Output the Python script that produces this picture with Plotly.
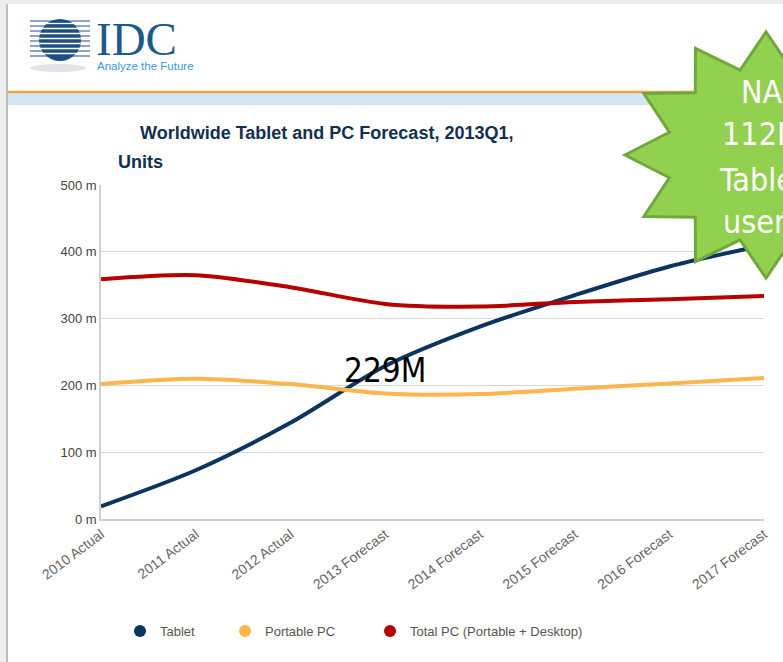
import numpy as np
import plotly.graph_objects as go

# ---- data ----
categories = ["2010 Actual", "2011 Actual", "2012 Actual", "2013 Forecast",
              "2014 Forecast", "2015 Forecast", "2016 Forecast", "2017 Forecast"]
tablet = [19, 73, 144, 229, 288, 335, 378, 410]
portable_pc = [202, 210, 202, 188, 187, 195, 203, 211]
total_pc = [359, 365, 347, 322, 318, 325, 329, 334]
y_ticks = [0, 100, 200, 300, 400, 500]
y_tick_labels = ["0 m", "100 m", "200 m", "300 m", "400 m", "500 m"]

series = [
    ("Tablet", tablet, "#0B3560"),
    ("Portable PC", portable_pc, "#FFB54D"),
    ("Total PC (Portable + Desktop)", total_pc, "#B80000"),
]

W, H = 783, 662
L, R, T, B = 101, 19, 185, 143
PW, PH = W - L - R, H - T - B


def px(x):
    return (x - L) / PW


def py(y):
    return (H - B - y) / PH


x_idx = list(range(len(categories)))
legend_ids = ["legend", "legend2", "legend3"]
legend_x = [120, 225, 370]

fig = go.Figure()
for name, vals, col in series:
    fig.add_trace(go.Scatter(x=x_idx, y=vals, mode="lines", name=name,
                             line=dict(color=col, width=4, shape="spline", smoothing=0.8),
                             showlegend=False, hoverinfo="skip"))
for (name, vals, col), lid in zip(series, legend_ids):
    fig.add_trace(go.Scatter(x=[None], y=[None], mode="markers", name=name, legend=lid,
                             marker=dict(color=col, size=17, symbol="circle"),
                             showlegend=True))

shapes = []
# screenshot frame
shapes.append(dict(type="rect", xref="paper", yref="paper", x0=px(0), x1=px(6), y0=py(H), y1=py(0),
                   fillcolor="#EDEDED", line=dict(width=0), layer="below"))
shapes.append(dict(type="rect", xref="paper", yref="paper", x0=px(0), x1=px(W), y0=py(4), y1=py(0),
                   fillcolor="#EDEDED", line=dict(width=0), layer="below"))
shapes.append(dict(type="line", xref="paper", yref="paper", x0=px(7), x1=px(7), y0=py(H), y1=py(4),
                   line=dict(color="#BDBDBD", width=2), layer="below"))
# header band
shapes.append(dict(type="rect", xref="paper", yref="paper", x0=px(8), x1=px(W), y0=py(105), y1=py(93),
                   fillcolor="#D2E7F5", line=dict(width=0), layer="above"))
shapes.append(dict(type="line", xref="paper", yref="paper", x0=px(8), x1=px(W), y0=py(92), y1=py(92),
                   line=dict(color="#F2A444", width=2.5), layer="above"))

# logo
shapes.append(dict(type="circle", xref="paper", yref="paper", x0=px(30), x1=px(86), y0=py(72), y1=py(64),
                   fillcolor="#E4E4E8", line=dict(width=0), layer="above"))
cx, cy, r = 60, 40, 21
stripe_y = [21, 26, 31, 36, 41, 46, 51, 56]
for sy in stripe_y:
    shapes.append(dict(type="line", xref="paper", yref="paper", x0=px(30), x1=px(90), y0=py(sy), y1=py(sy),
                       line=dict(color="#8EA6C6", width=2), layer="above"))
shapes.append(dict(type="circle", xref="paper", yref="paper", x0=px(cx - r), x1=px(cx + r),
                   y0=py(cy + r), y1=py(cy - r), fillcolor="#1D4F80", line=dict(width=0), layer="above"))
for sy in [23.5, 28.5, 33.5, 38.5, 43.5, 48.5, 53.5]:
    d = r * r - (sy - cy) ** 2
    if d > 0:
        hw = np.sqrt(d)
        shapes.append(dict(type="line", xref="paper", yref="paper", x0=px(cx - hw), x1=px(cx + hw),
                           y0=py(sy), y1=py(sy), line=dict(color="#FFFFFF", width=1.3), layer="above"))

# star burst
scx, scy = 766, 155
pts = []
for k in range(24):
    ang = np.deg2rad(90 + 15 * k)
    if k % 2 == 0:
        rx, ry = 141, 123
    else:
        rx, ry = 100, 88
    pts.append((px(scx + rx * np.cos(ang)), py(scy - ry * np.sin(ang))))
path = "M " + " L ".join(f"{a:.5f},{b:.5f}" for a, b in pts) + " Z"
shapes.append(dict(type="path", xref="paper", yref="paper", path=path,
                   fillcolor="#92D050", line=dict(color="#70A83B", width=3), layer="above"))

NARROW = "DejaVu Sans Condensed, Liberation Sans Narrow, Arial Narrow, Liberation Sans, Arial"
annotations = [
    dict(text="IDC", x=px(94), y=py(39), xref="paper", yref="paper", xanchor="left", yanchor="middle",
         showarrow=False, font=dict(family="Liberation Serif, DejaVu Serif", size=47, color="#1C5A8D")),
    dict(text="Analyze the Future", x=px(95), y=py(66), xref="paper", yref="paper", xanchor="left",
         yanchor="middle", showarrow=False,
         font=dict(family="Liberation Sans, Arial", size=11.5, color="#3A9BD8")),
    dict(text="<b>Worldwide Tablet and PC Forecast, 2013Q1,</b>", x=px(138), y=py(133), xref="paper",
         yref="paper", xanchor="left", yanchor="middle", showarrow=False,
         font=dict(family="Liberation Sans, Arial", size=18, color="#12304F")),
    dict(text="<b>Units</b>", x=px(116), y=py(162), xref="paper", yref="paper", xanchor="left",
         yanchor="middle", showarrow=False,
         font=dict(family="Liberation Sans, Arial", size=18, color="#12304F")),
    dict(text="229M", x=px(342), y=py(370), xref="paper", yref="paper", xanchor="left", yanchor="middle",
         showarrow=False, font=dict(family=NARROW, size=33, color="#000000")),
]
for txt, yy in [("NA", 92), ("112M", 134), ("Tablet", 180), ("users", 222)]:
    annotations.append(dict(text=txt, x=px(762), y=py(yy), xref="paper", yref="paper", xanchor="center",
                            yanchor="middle", showarrow=False,
                            font=dict(family=NARROW, size=32, color="#FFFFFF")))

legend_common = dict(orientation="h", yanchor="middle", xanchor="left",
                     font=dict(family="Liberation Sans, Arial", size=13, color="#555555"),
                     itemsizing="constant", bgcolor="rgba(0,0,0,0)")
layout_legends = {}
for lid, lx in zip(legend_ids, legend_x):
    layout_legends[lid] = dict(legend_common, x=px(lx), y=py(631))

fig.update_layout(
    width=W, height=H,
    margin=dict(l=L, r=R, t=T, b=B, autoexpand=False),
    paper_bgcolor="#FFFFFF", plot_bgcolor="#FFFFFF",
    showlegend=True,
    shapes=shapes, annotations=annotations,
    xaxis=dict(range=[0, len(categories) - 1], tickmode="array", tickvals=x_idx, ticktext=categories,
               tickangle=-37, showgrid=False, zeroline=False, showline=True, linecolor="#D0D0D0",
               linewidth=1.5, ticks="", tickfont=dict(family="Liberation Sans, Arial", size=14,
                                                      color="#666666")),
    yaxis=dict(range=[0, 500], tickmode="array", tickvals=y_ticks, ticktext=y_tick_labels,
               showgrid=True, gridcolor="#D9D9D9", gridwidth=1.3, zeroline=False, showline=True,
               linecolor="#D0D0D0", linewidth=1.5, ticks="",
               tickfont=dict(family="Liberation Sans, Arial", size=13, color="#444444")),
    **layout_legends,
)

fig.write_html("out.html", config={"displayModeBar": False},
               post_script="document.body.style.margin='0';")
